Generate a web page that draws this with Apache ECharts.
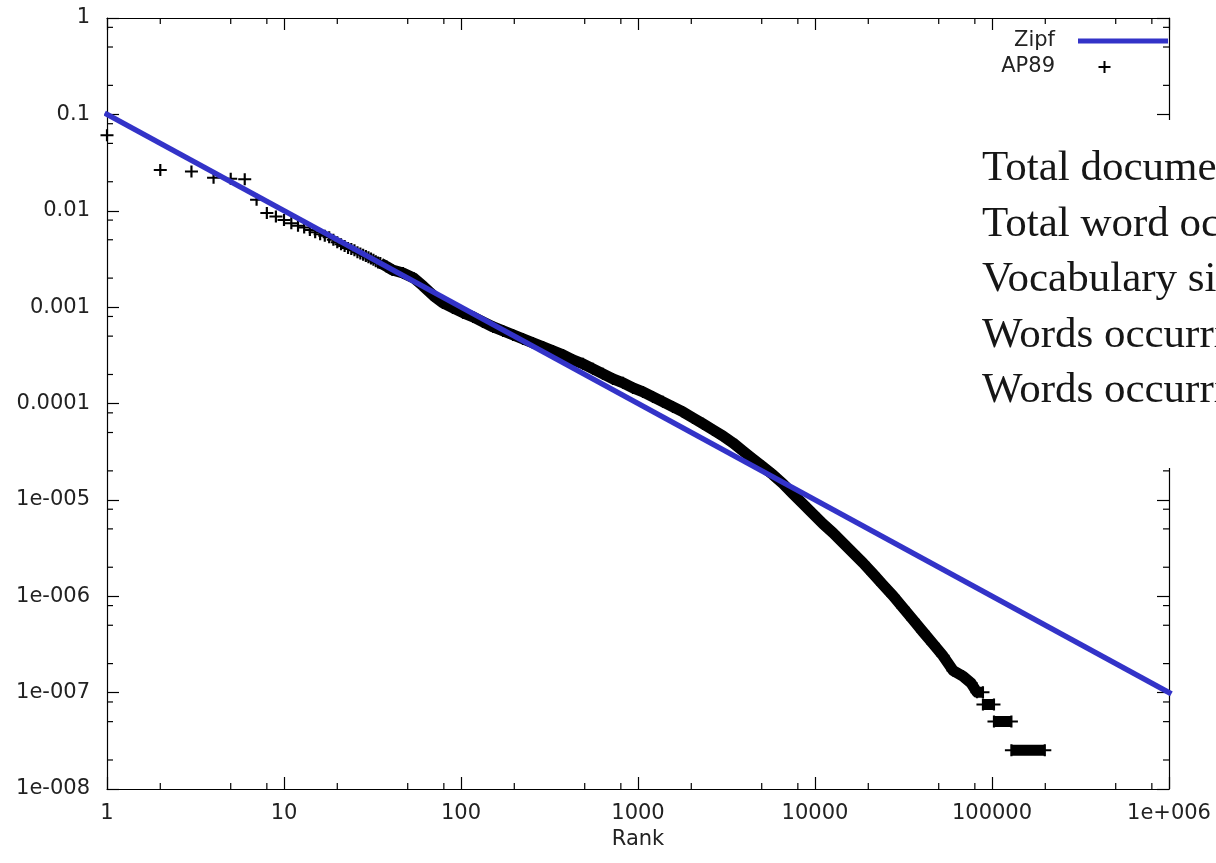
<!DOCTYPE html>
<html>
<head>
<meta charset="utf-8">
<script src="https://cdn.jsdelivr.net/npm/echarts@6/dist/echarts.min.js"></script>
<style>html,body{margin:0;padding:0;background:#fff}#c{width:1216px;height:863px}</style>
</head>
<body>
<div id="c"></div>
<script>
// ---------- data ----------
const xTickLabels = ['1', '10', '100', '1000', '10000', '100000', '1e+006'];
const yTickLabels = ['1e-008', '1e-007', '1e-006', '1e-005', '0.0001', '0.001', '0.01', '0.1', '1'];
const xMinorTicks = [2, 5, 8, 20, 50, 80, 200, 500, 800, 2000, 5000, 8000, 20000, 50000, 80000, 200000, 500000, 800000];
const yMinorTicks = [2e-8, 5e-8, 8e-8, 2e-7, 5e-7, 8e-7, 2e-6, 5e-6, 8e-6, 2e-5, 5e-5, 8e-5, 2e-4, 5e-4, 8e-4, 0.002, 0.005, 0.008, 0.02, 0.05, 0.08, 0.2, 0.5, 0.8];

const zipfRank = [1, 1000000];
const zipfFreq = [0.1, 1e-7];

// AP89: most frequent words, one point per rank
const apHeadRank = [1, 2, 3, 4, 5, 6, 7, 8, 9, 10, 11, 12, 13, 14, 15, 16, 17, 18, 19, 20, 21, 22, 23, 24, 25, 26, 27, 28, 29, 30, 31, 32, 33, 34];
const apHeadFreq = [0.0608, 0.0265, 0.0255, 0.0220, 0.0215, 0.0212, 0.0130, 0.0095, 0.0087, 0.0080, 0.0074, 0.0070, 0.0067, 0.0063, 0.0060, 0.0057, 0.0055, 0.0053, 0.0050, 0.0047, 0.0045, 0.0043, 0.0041, 0.0040, 0.0039, 0.0037, 0.0036, 0.0035, 0.0034, 0.0033, 0.0032, 0.0031, 0.0030, 0.0029];

// AP89: dense band of the remaining ranks (read along the band), then the count-4..1 plateaus
const apBandRank = [35, 38, 41, 47, 54, 61, 70, 79, 90, 103, 117, 133, 152, 173, 197, 224, 255, 291, 331, 377, 429, 489, 557, 634, 722, 823, 937, 1067, 1215, 1384, 1576, 1796, 2045, 2329, 2653, 3021, 3441, 3919, 4464, 5084, 5790, 6595, 7511, 8555, 9743, 11100, 12640, 14390, 16390, 18670, 21270, 24220, 27590, 31420, 35790, 40760, 46420, 52870, 60220, 68590, 76110, 82300, 88899, 88900, 102599, 102600, 128699, 128700, 198763];
const apBandFreq = [2.87e-3, 2.64e-3, 2.43e-3, 2.26e-3, 2.01e-3, 1.66e-3, 1.31e-3, 1.105e-3, 9.81e-4, 8.71e-4, 7.91e-4, 7.02e-4, 6.23e-4, 5.66e-4, 5.15e-4, 4.68e-4, 4.25e-4, 3.86e-4, 3.51e-4, 3.19e-4, 2.83e-4, 2.58e-4, 2.29e-4, 2.03e-4, 1.80e-4, 1.64e-4, 1.45e-4, 1.32e-4, 1.17e-4, 1.04e-4, 9.22e-5, 8.18e-5, 7.09e-5, 6.15e-5, 5.32e-5, 4.61e-5, 3.90e-5, 3.22e-5, 2.66e-5, 2.20e-5, 1.82e-5, 1.47e-5, 1.15e-5, 9.09e-6, 7.16e-6, 5.64e-6, 4.55e-6, 3.58e-6, 2.82e-6, 2.22e-6, 1.71e-6, 1.31e-6, 1.01e-6, 7.58e-7, 5.69e-7, 4.27e-7, 3.21e-7, 2.41e-7, 1.70e-7, 1.48e-7, 1.26e-7, 1.006e-7, 1.006e-7, 7.55e-8, 7.55e-8, 5.03e-8, 5.03e-8, 2.52e-8, 2.52e-8];

const statLines = [
  'Total documents 84,678',
  'Total word occurrences 39,749,179',
  'Vocabulary size 198,763',
  'Words occurring > 1000 times 4,169',
  'Words occurring once 70,064'
];

// ---------- chart ----------
const X_MIN = 1, X_MAX = 1e6, Y_MIN = 1e-8, Y_MAX = 1;
const PLUS = 'path://M0,5H12V7H0Z M5,0H7V12H5Z';
const labelFont = { fontFamily: 'DejaVu Sans', fontSize: 21, color: '#222' };
const AXIS_COLOR = '#000';
const ZIPF_COLOR = '#3333c8';

function zip(a, b) { return a.map((v, i) => [v, b[i]]); }

// split the band where the value steps between consecutive ranks
function segments(r, f) {
  const segs = []; let cur = [];
  for (let i = 0; i < r.length; i++) {
    if (i > 0 && r[i] - r[i - 1] <= 1 && f[i] !== f[i - 1]) { segs.push(cur); cur = []; }
    cur.push([r[i], f[i]]);
  }
  segs.push(cur);
  return segs;
}

const axisCommon = {
  type: 'log', logBase: 10,
  axisLine: { show: true, onZero: false, lineStyle: { color: AXIS_COLOR, width: 1.2 } },
  axisTick: { show: true, inside: true, length: 12, lineStyle: { color: AXIS_COLOR, width: 1.2 } },
  splitLine: { show: false },
  minorTick: { show: false }
};

function minorTickX(params, api) {
  const v = api.value(0);
  const b = api.coord([v, Y_MIN]);
  const t = api.coord([v, Y_MAX]);
  const st = { stroke: AXIS_COLOR, lineWidth: 1.2 };
  return { type: 'group', children: [
    { type: 'line', shape: { x1: b[0], y1: b[1], x2: b[0], y2: b[1] - 6 }, style: st },
    { type: 'line', shape: { x1: t[0], y1: t[1], x2: t[0], y2: t[1] + 6 }, style: st }
  ] };
}
function minorTickY(params, api) {
  const v = api.value(1);
  const l = api.coord([X_MIN, v]);
  const r = api.coord([X_MAX, v]);
  const st = { stroke: AXIS_COLOR, lineWidth: 1.2 };
  return { type: 'group', children: [
    { type: 'line', shape: { x1: l[0], y1: l[1], x2: l[0] + 6, y2: l[1] }, style: st },
    { type: 'line', shape: { x1: r[0], y1: r[1], x2: r[0] - 6, y2: r[1] }, style: st }
  ] };
}

const bandSegs = segments(apBandRank, apBandFreq);

const option = {
  animation: false,
  backgroundColor: '#fff',
  grid: { left: 107, right: 47, top: 18, bottom: 74, containLabel: false },
  xAxis: [
    Object.assign({}, axisCommon, {
      min: X_MIN, max: X_MAX, position: 'bottom',
      name: 'Rank', nameLocation: 'middle', nameGap: 33, nameTextStyle: labelFont,
      axisLabel: Object.assign({}, labelFont, { margin: 14, formatter: v => xTickLabels[Math.round(Math.log10(v))] })
    }),
    Object.assign({}, axisCommon, { min: X_MIN, max: X_MAX, position: 'top', axisLabel: { show: false } })
  ],
  yAxis: [
    Object.assign({}, axisCommon, {
      min: Y_MIN, max: Y_MAX, position: 'left',
      axisLabel: Object.assign({}, labelFont, { margin: 17, formatter: v => yTickLabels[Math.round(Math.log10(v)) + 8] })
    }),
    Object.assign({}, axisCommon, { min: Y_MIN, max: Y_MAX, position: 'right', axisLabel: { show: false } })
  ],
  legend: [
    {
      data: [{ name: 'Zipf', icon: 'rect' }], right: 48, top: 30, padding: 0,
      itemWidth: 90, itemHeight: 5, align: 'right', selectedMode: false,
      textStyle: Object.assign({}, labelFont, { lineHeight: 22, padding: [0, 18, 0, 0] })
    },
    {
      data: [{ name: 'AP89', icon: PLUS }], right: 105.5, top: 56, padding: 0,
      itemWidth: 13, itemHeight: 12, align: 'right', selectedMode: false,
      textStyle: Object.assign({}, labelFont, { lineHeight: 22, padding: [0, 38, 0, 0] })
    }
  ],
  series: [
    ...bandSegs.map(seg => ({
      type: 'line', data: seg, symbol: 'none', silent: true, z: 1,
      lineStyle: { color: '#000', width: 11, cap: 'butt', join: 'round' },
      emphasis: { disabled: true }
    })),
    {
      name: 'AP89', type: 'scatter', z: 2, clip: false,
      data: zip(apHeadRank, apHeadFreq).concat(zip(apBandRank, apBandFreq)),
      symbol: PLUS, symbolSize: [13, 12],
      itemStyle: { color: '#000', opacity: 1 }
    },
    {
      name: 'Zipf', type: 'line', z: 3, clip: false,
      data: zip(zipfRank, zipfFreq), symbol: 'none', color: ZIPF_COLOR,
      lineStyle: { color: ZIPF_COLOR, width: 5.5, cap: 'square' }
    },
    { type: 'custom', silent: true, z: 4, data: xMinorTicks.map(v => [v, Y_MIN]), renderItem: minorTickX },
    { type: 'custom', silent: true, z: 4, data: yMinorTicks.map(v => [X_MIN, v]), renderItem: minorTickY }
  ],
  graphic: [
    { type: 'rect', shape: { x: 966, y: 120, width: 260, height: 348 }, style: { fill: '#fff' }, z: 100, silent: true }
  ].concat(statLines.map((t, i) => ({
    type: 'text', x: 982, y: 169 + i * 55.5, z: 101, silent: true,
    style: { text: t, font: '43px "Liberation Serif"', fill: '#161616', verticalAlign: 'middle' }
  })))
};

const chart = echarts.init(document.getElementById('c'));
chart.setOption(option);
</script>
</body>
</html>
